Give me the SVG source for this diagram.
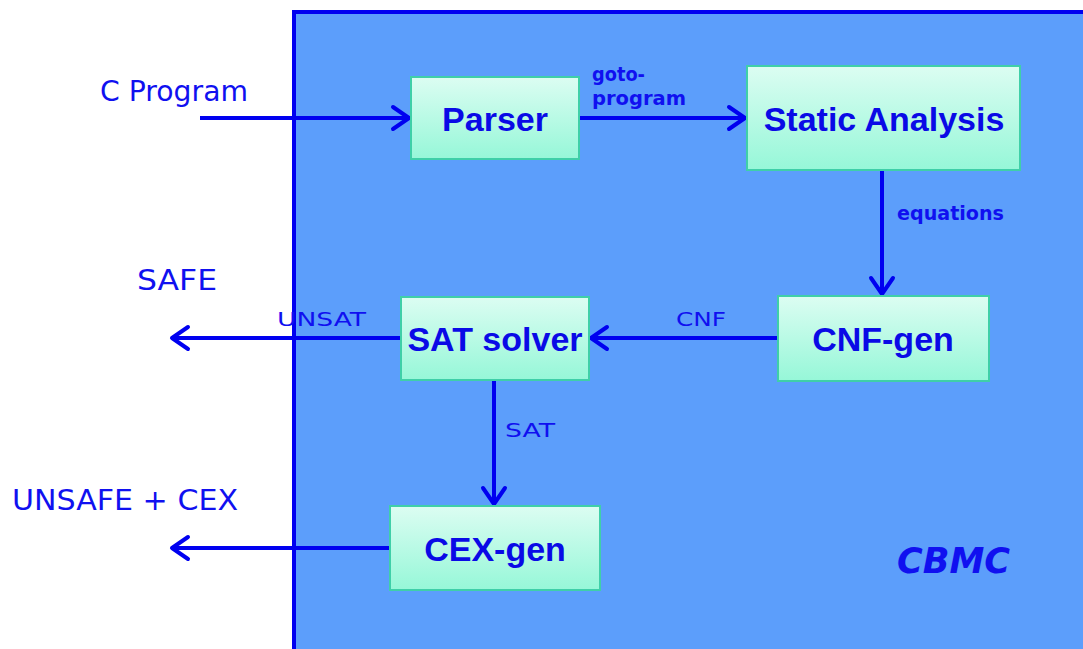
<svg xmlns="http://www.w3.org/2000/svg" width="1083" height="649" viewBox="0 0 1083 649">
<style>
.box{fill:url(#g);stroke:#3fcfa8;stroke-width:2}
.bt{font-family:"Liberation Sans",Arial,sans-serif;font-weight:bold;font-size:34px;fill:#0a0ae6;text-anchor:middle}
.lbl{font-family:"DejaVu Sans",sans-serif;fill:#1010f0}
.big{font-size:28px}
.sm{font-size:20px}
.sb{font-weight:600}
.ln{stroke:#0000f0;stroke-width:4;fill:none}
</style>
<defs>
<linearGradient id="g" x1="0" y1="0" x2="0" y2="1">
<stop offset="0" stop-color="#dcfdf2"/>
<stop offset="1" stop-color="#96f7d8"/>
</linearGradient>
<marker id="ah" markerUnits="userSpaceOnUse" markerWidth="24" markerHeight="28" viewBox="0 0 24 28" refX="21" refY="14" orient="auto">
<path d="M5,3 L21,14 L5,25" fill="none" stroke="#0000f0" stroke-width="4" stroke-linecap="round" stroke-linejoin="round"/>
</marker>
</defs>
<rect width="1083" height="649" fill="#ffffff"/>
<g id="cbmc">
<rect x="294" y="12" width="900" height="700" fill="#5c9efb" stroke="#0000f0" stroke-width="4"/>
<text class="lbl" x="897" y="573" font-size="36" font-weight="bold" font-style="italic" textLength="113" lengthAdjust="spacingAndGlyphs">CBMC</text>
</g>
<g id="connectors">
<line class="ln" x1="200" y1="118" x2="409" y2="118" marker-end="url(#ah)"/>
<line class="ln" x1="579" y1="118" x2="745" y2="118" marker-end="url(#ah)"/>
<line class="ln" x1="882" y1="171" x2="882" y2="294" marker-end="url(#ah)"/>
<line class="ln" x1="778" y1="338" x2="591" y2="338" marker-end="url(#ah)"/>
<line class="ln" x1="401" y1="338" x2="172" y2="338" marker-end="url(#ah)"/>
<line class="ln" x1="494" y1="380" x2="494" y2="504" marker-end="url(#ah)"/>
<line class="ln" x1="390" y1="548" x2="172" y2="548" marker-end="url(#ah)"/>
<text class="lbl sm sb" x="592" y="81" textLength="53" lengthAdjust="spacingAndGlyphs">goto-</text>
<text class="lbl sm sb" x="592" y="105" textLength="94" lengthAdjust="spacingAndGlyphs">program</text>
<text class="lbl sm sb" x="897" y="220" textLength="107" lengthAdjust="spacingAndGlyphs">equations</text>
<text class="lbl sm" x="676" y="326" textLength="50" lengthAdjust="spacingAndGlyphs">CNF</text>
<text class="lbl sm" x="277" y="326" textLength="89" lengthAdjust="spacingAndGlyphs">UNSAT</text>
<text class="lbl sm" x="505" y="437" textLength="50" lengthAdjust="spacingAndGlyphs">SAT</text>
</g>
<g id="cprogram"><text class="lbl big" x="100" y="101" textLength="148" lengthAdjust="spacingAndGlyphs">C Program</text></g>
<g id="safe"><text class="lbl big" x="137" y="290" textLength="80" lengthAdjust="spacingAndGlyphs">SAFE</text></g>
<g id="unsafe"><text class="lbl big" x="12" y="510" textLength="226" lengthAdjust="spacingAndGlyphs">UNSAFE + CEX</text></g>
<g id="parser"><rect class="box" x="411" y="77" width="168" height="82"/><text class="bt" x="495" y="131">Parser</text></g>
<g id="static"><rect class="box" x="747" y="66" width="273" height="104"/><text class="bt" x="884" y="131">Static Analysis</text></g>
<g id="cnfgen"><rect class="box" x="778" y="296" width="211" height="85"/><text class="bt" x="883" y="351">CNF-gen</text></g>
<g id="satsolver"><rect class="box" x="401" y="297" width="188" height="83"/><text class="bt" x="495" y="351">SAT solver</text></g>
<g id="cexgen"><rect class="box" x="390" y="506" width="210" height="84"/><text class="bt" x="495" y="561">CEX-gen</text></g>
</svg>
